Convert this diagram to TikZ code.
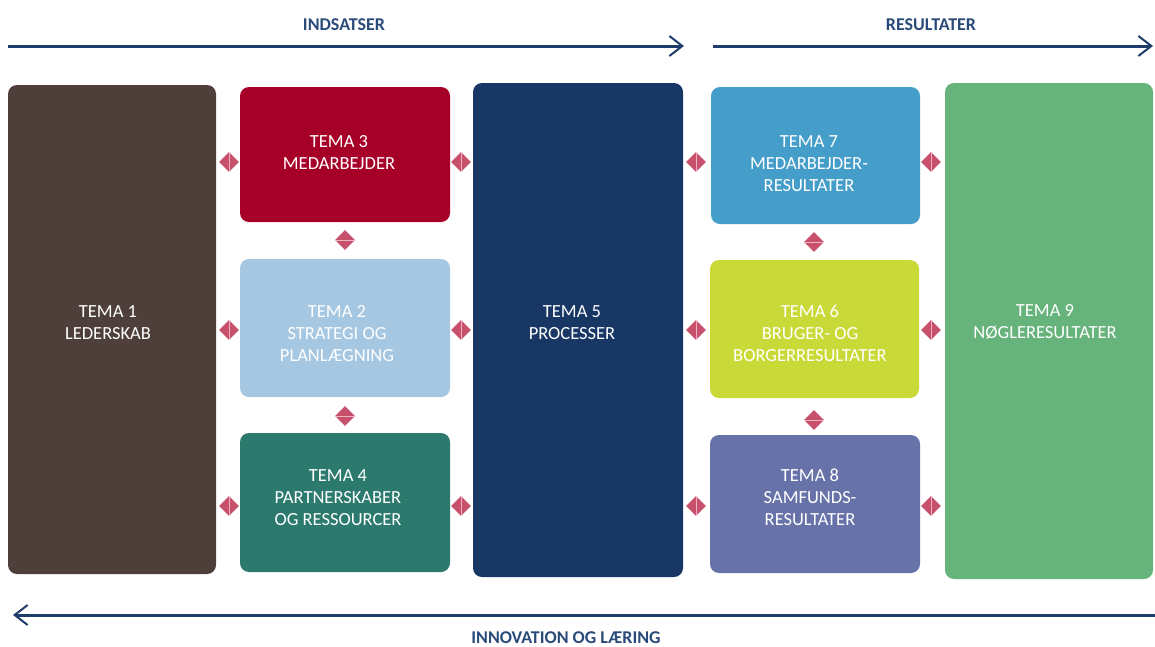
\documentclass[tikz,border=0pt]{standalone}
\usepackage{fontspec}
\setmainfont{Carlito}
\usetikzlibrary{arrows.meta,shapes.geometric}
\definecolor{cT1}{HTML}{4F3F3B}
\definecolor{cT3}{HTML}{A60028}
\definecolor{cT2}{HTML}{A6C7E1}
\definecolor{cT4}{HTML}{2B7A6D}
\definecolor{cT5}{HTML}{183764}
\definecolor{cT7}{HTML}{459ECA}
\definecolor{cT6}{HTML}{C9DA38}
\definecolor{cT8}{HTML}{6773A8}
\definecolor{cT9}{HTML}{66B47B}
\definecolor{cArrow}{HTML}{1E3D6B}
\definecolor{cHead}{HTML}{2A4A7A}
\definecolor{cDia}{HTML}{C9506D}
\definecolor{cDiaLine}{HTML}{EDB3C1}
\tikzset{
  box/.style={rectangle, rounded corners=9pt, inner sep=0pt, outer sep=0pt},
  boxtext/.style={text=white, align=center, font=\fontsize{18.5}{22}\selectfont, inner sep=0pt},
  headtext/.style={text=cHead, font=\fontsize{18}{20}\selectfont\bfseries, inner sep=0pt},
  flow/.style={draw=cArrow, line width=3pt, -{Straight Barb[length=13pt,width=20pt,line width=2pt]}},
  dia/.style={diamond, fill=cDia, minimum width=20pt, minimum height=20pt, inner sep=0pt, aspect=1},
  dialine/.style={draw=cDiaLine, line width=0.8pt}
}
\begin{document}
\begin{tikzpicture}[x=1pt,y=-1pt]
\useasboundingbox (0,0) rectangle (1155,646);
% boxes
\node[box, fill=cT1, minimum width=208pt, minimum height=489pt] (b1) at (112,329.5) {};
\node[box, fill=cT3, minimum width=210pt, minimum height=135pt] (b3) at (345,154.5) {};
\node[box, fill=cT2, minimum width=210pt, minimum height=138pt] (b2) at (345,328) {};
\node[box, fill=cT4, minimum width=210pt, minimum height=139pt] (b4) at (345,502.5) {};
\node[box, fill=cT5, minimum width=210pt, minimum height=494pt] (b5) at (578,330) {};
\node[box, fill=cT7, minimum width=209pt, minimum height=137pt] (b7) at (815.5,155.5) {};
\node[box, fill=cT6, minimum width=209pt, minimum height=138pt] (b6) at (814.5,329) {};
\node[box, fill=cT8, minimum width=210pt, minimum height=138pt] (b8) at (815,504) {};
\node[box, fill=cT9, minimum width=208pt, minimum height=496pt] (b9) at (1049,331) {};
% texts
\node[boxtext] (t1) at (108,322.2) {TEMA 1\\LEDERSKAB};
\node[boxtext] (t3) at (339,152.2) {TEMA 3\\MEDARBEJDER};
\node[boxtext] (t2) at (337,333.2) {TEMA 2\\STRATEGI OG\\PLANLÆGNING};
\node[boxtext] (t4) at (338,497.2) {TEMA 4\\PARTNERSKABER\\OG RESSOURCER};
\node[boxtext] (t5) at (572,322.2) {TEMA 5\\PROCESSER};
\node[boxtext] (t7) at (809,163.2) {TEMA 7\\MEDARBEJDER-\\RESULTATER};
\node[boxtext] (t6) at (810,333.2) {TEMA 6\\BRUGER- OG\\BORGERRESULTATER};
\node[boxtext] (t8) at (810,497.2) {TEMA 8\\SAMFUNDS-\\RESULTATER};
\node[boxtext] (t9) at (1045,322.2) {TEMA 9\\NØGLERESULTATER};
% side diamonds
\foreach \x/\n in {229/a,461/b,696/c,931/d}{
  \foreach \y/\m in {162/1,330/2,506/3}{
    \node[dia] (s\n\m) at (\x,\y) {};
    \draw[dialine] (s\n\m.north) -- (s\n\m.south);
  }
}
% vertical diamonds
\foreach \x/\y/\n in {345/240/v1,345/416/v2,814/242/v3,814/420/v4}{
  \node[dia] (\n) at (\x,\y) {};
  \draw[dialine] (\n.west) -- (\n.east);
}
% flow arrows
\coordinate (a1s) at (8,46);
\coordinate (a1e) at (684,46);
\coordinate (a2s) at (713,46);
\coordinate (a2e) at (1153,46);
\coordinate (a3s) at (1155,615);
\coordinate (a3e) at (13,615);
\draw[flow] (a1s) -- (a1e);
\draw[flow] (a2s) -- (a2e);
\draw[flow] (a3s) -- (a3e);
\node[headtext] (h1) at (344,24.5) {INDSATSER};
\node[headtext] (h2) at (931,24.5) {RESULTATER};
\node[headtext] (h3) at (566,637.5) {INNOVATION OG LÆRING};
\end{tikzpicture}
\end{document}
